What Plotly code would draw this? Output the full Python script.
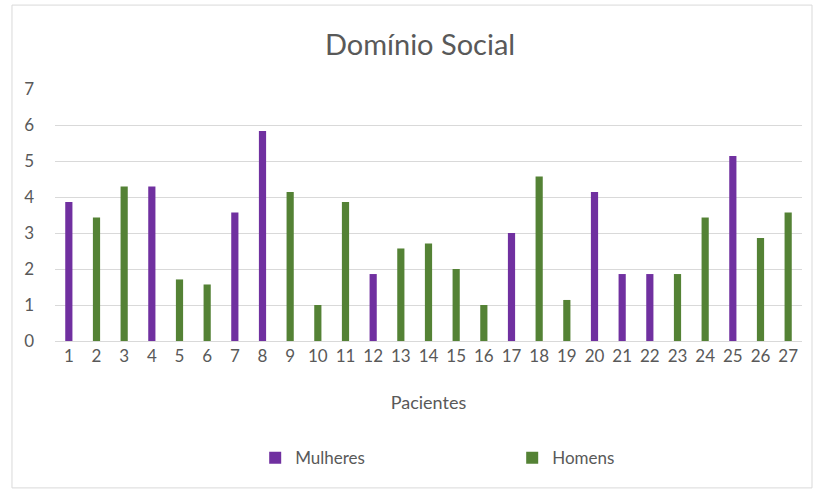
import plotly.graph_objects as go

# Social domain score per patient
patients = [str(i) for i in range(1, 28)]
scores = [3.86, 3.43, 4.29, 4.29, 1.71, 1.57, 3.57, 5.83, 4.14, 1.0,
          3.86, 1.86, 2.57, 2.71, 2.0, 1.0, 3.0, 4.57, 1.14, 4.14,
          1.86, 1.86, 1.86, 3.43, 5.14, 2.86, 3.57]
sexo = ["F", "M", "M", "F", "M", "M", "F", "F", "M", "M",
        "M", "F", "M", "M", "M", "M", "F", "M", "M", "F",
        "F", "F", "M", "M", "F", "M", "M"]

mulheres = [s if g == "F" else None for s, g in zip(scores, sexo)]
homens = [s if g == "M" else None for s, g in zip(scores, sexo)]

purple = "#7030A0"
green = "#548235"
text_grey = "#595959"
grid_grey = "#d9d9d9"
font_family = "Lato, Open Sans, sans-serif"

fig = go.Figure()
fig.add_trace(go.Bar(x=patients, y=mulheres, name="Mulheres",
                     marker=dict(color=purple, line=dict(width=0)), width=0.26))
fig.add_trace(go.Bar(x=patients, y=homens, name="Homens",
                     marker=dict(color=green, line=dict(width=0)), width=0.26))

fig.update_layout(
    width=814, height=490,
    barmode="overlay",
    margin=dict(l=55, r=12, t=89, b=149, autoexpand=False),
    paper_bgcolor="white",
    plot_bgcolor="white",
    font=dict(family=font_family, color=text_grey, size=17),
    title=dict(text="Domínio Social", x=0.516, xanchor="center",
               y=0.908, yanchor="middle",
               font=dict(size=29, color=text_grey, family=font_family)),
    legend=dict(orientation="h", x=0.268, xanchor="left",
                y=-0.465, yanchor="middle",
                entrywidth=212, entrywidthmode="pixels",
                bgcolor="rgba(0,0,0,0)",
                font=dict(size=17, color=text_grey),
                itemclick=False),
    showlegend=True,
)

fig.update_yaxes(range=[0, 7], dtick=1, showgrid=True, gridcolor=grid_grey,
                 gridwidth=1, zeroline=False, showline=False,
                 ticklabelstandoff=20, tickfont=dict(size=17, color=text_grey))
fig.update_xaxes(showgrid=False, showline=True, linecolor=grid_grey, linewidth=1,
                 tickfont=dict(size=17, color=text_grey),
                 title=dict(text="Pacientes", standoff=30,
                            font=dict(size=18, color=text_grey)))

# chart border
fig.add_shape(type="rect", xref="paper", yref="paper",
              x0=-0.0576, x1=1.0134, y0=-0.583, y1=1.333,
              line=dict(color="#d9d9d9", width=1), fillcolor="rgba(0,0,0,0)",
              layer="below")

# drop the default page margin so the figure sits at the window origin
fig.write_html("out.html", config={"displayModeBar": False},
               post_script="document.body.style.margin='0';")
